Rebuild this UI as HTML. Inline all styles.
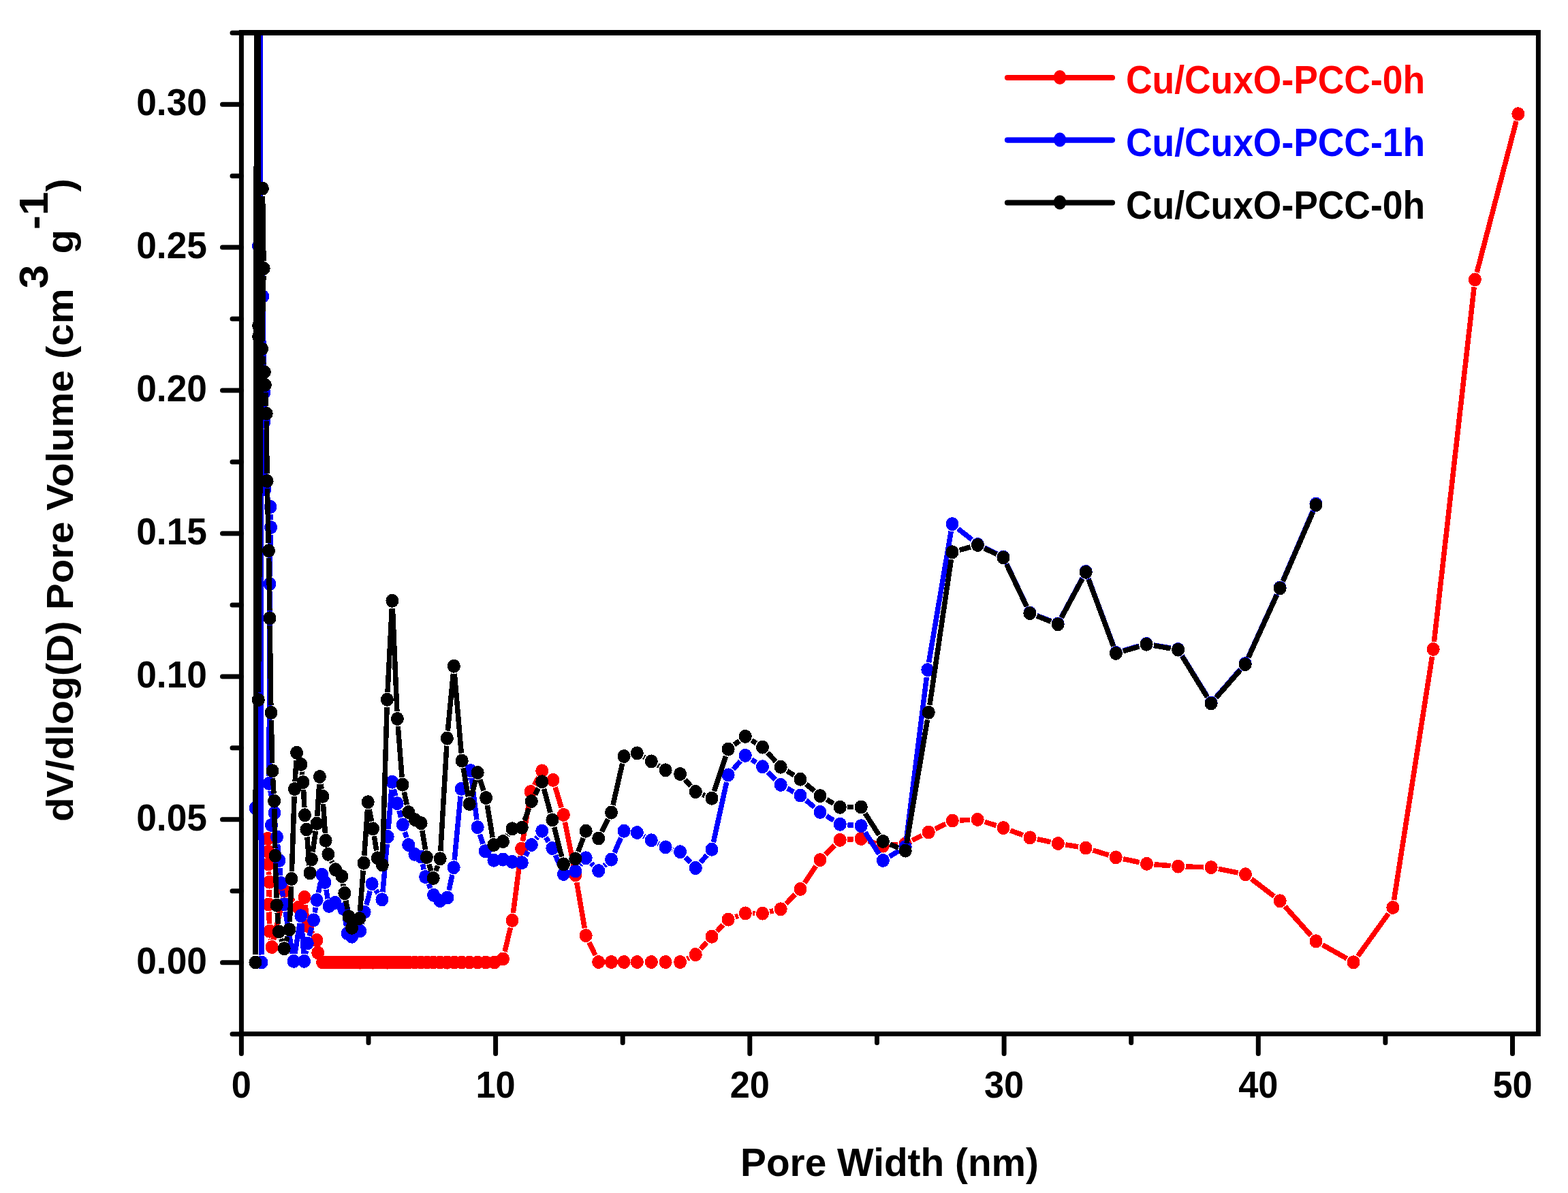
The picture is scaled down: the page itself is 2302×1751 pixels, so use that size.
<!DOCTYPE html><html><head><meta charset="utf-8"><style>html,body{margin:0;padding:0;background:#fff;}svg{display:block}</style></head><body>
<svg width="2302" height="1751" viewBox="0 0 2302 1751">
<rect width="2302" height="1751" fill="#fff"/>
<defs><clipPath id="pa"><rect x="354.44" y="47.95" width="1903.96" height="1469.51"/></clipPath></defs>
<g clip-path="url(#pa)" shape-rendering="crispEdges">
<path d="M394.6 1279.4L394.9 1283.7M395.2 1305.7L394.8 1316.5M394.9 1338.5L395.4 1355.7M397.4 1377.6L397.6 1379.1M401.6 1379.3L415.6 1318.2M425 1316L431 1323.5M448.2 1327.9L450.5 1348.1M457.6 1368.3L459.1 1370.7M741.1 1396.8L749.4 1361.6M753.4 1340L764.2 1256.6M767.4 1234.8L777.4 1172.9M784.4 1152.3L790.5 1141.1M815.2 1155.5L824.2 1185.4M829.5 1206.7L842.7 1273.4M846.7 1295L858.3 1362.3M864.9 1383L874 1402.1M1008.5 1407.2L1011.4 1405.9M1028.6 1392.9L1037.7 1382.9M1052.6 1366.8L1061.5 1357.5M1079.4 1345.8L1084 1344.2M1105.3 1340.5L1108.5 1340.6M1130.2 1338.1L1135.5 1336.9M1153.9 1326.5L1167.3 1312.8M1181.2 1295.9L1197.8 1271.2M1211.8 1254.3L1225.5 1240.7M1244.3 1232.2L1253.2 1231.7M1274.6 1234.4L1286 1238.2M1307.3 1240.5L1318.3 1239.5M1339.1 1233.5L1353.3 1226.4M1373.1 1216.7L1388.4 1209.3M1409.3 1204L1424.2 1203.4M1445.7 1206.3L1462.5 1211.7M1483.3 1218.9L1501.8 1225.6M1522.9 1231.6L1542.5 1235.8M1564.2 1239.8L1583.1 1242.8M1604.5 1247.9L1627.7 1255.1M1649 1260.7L1672.7 1265.6M1694.5 1268.8L1718.6 1270.7M1740.6 1271.9L1767.1 1272.8M1788.9 1275.3L1817.7 1281.1M1837.2 1290L1870.5 1315.6M1886.5 1330.5L1924.7 1373.2M1941.6 1386.8L1977.4 1406.9M1993.4 1403.4L2038.4 1340.9M2046.5 1321.1L2102.5 963.8M2105.4 942L2164.2 421.3M2168.2 399.8L2226 177.8" stroke="#ff0000" stroke-width="7.5" fill="none"/><g fill="#ff0000"><ellipse cx="393" cy="1231" rx="9.5" ry="10.0"/><ellipse cx="394" cy="1250" rx="9.5" ry="10.0"/><ellipse cx="394" cy="1268.4" rx="9.5" ry="10.0"/><ellipse cx="395.5" cy="1294.7" rx="9.5" ry="10.0"/><ellipse cx="394.5" cy="1327.5" rx="9.5" ry="10.0"/><ellipse cx="395.8" cy="1366.7" rx="9.5" ry="10.0"/><ellipse cx="399.2" cy="1390" rx="9.5" ry="10.0"/><ellipse cx="418" cy="1307.5" rx="9.5" ry="10.0"/><ellipse cx="438" cy="1332" rx="9.5" ry="10.0"/><ellipse cx="447" cy="1317" rx="9.5" ry="10.0"/><ellipse cx="451.7" cy="1359" rx="9.5" ry="10.0"/><ellipse cx="465" cy="1380" rx="9.5" ry="10.0"/><ellipse cx="466.7" cy="1398.3" rx="9.5" ry="10.0"/><ellipse cx="473.6" cy="1412.5" rx="9.5" ry="10.0"/><ellipse cx="477.8" cy="1412.5" rx="9.5" ry="10.0"/><ellipse cx="482.1" cy="1412.5" rx="9.5" ry="10.0"/><ellipse cx="486.6" cy="1412.5" rx="9.5" ry="10.0"/><ellipse cx="491.2" cy="1412.5" rx="9.5" ry="10.0"/><ellipse cx="496" cy="1412.5" rx="9.5" ry="10.0"/><ellipse cx="501" cy="1412.5" rx="9.5" ry="10.0"/><ellipse cx="506.1" cy="1412.5" rx="9.5" ry="10.0"/><ellipse cx="511.4" cy="1412.5" rx="9.5" ry="10.0"/><ellipse cx="516.9" cy="1412.5" rx="9.5" ry="10.0"/><ellipse cx="522.6" cy="1412.5" rx="9.5" ry="10.0"/><ellipse cx="528.5" cy="1412.5" rx="9.5" ry="10.0"/><ellipse cx="534.6" cy="1412.5" rx="9.5" ry="10.0"/><ellipse cx="540.9" cy="1412.5" rx="9.5" ry="10.0"/><ellipse cx="547.5" cy="1412.5" rx="9.5" ry="10.0"/><ellipse cx="554.2" cy="1412.5" rx="9.5" ry="10.0"/><ellipse cx="561.2" cy="1412.5" rx="9.5" ry="10.0"/><ellipse cx="568.5" cy="1412.5" rx="9.5" ry="10.0"/><ellipse cx="576" cy="1412.5" rx="9.5" ry="10.0"/><ellipse cx="583.7" cy="1412.5" rx="9.5" ry="10.0"/><ellipse cx="591.8" cy="1412.5" rx="9.5" ry="10.0"/><ellipse cx="600.1" cy="1412.5" rx="9.5" ry="10.0"/><ellipse cx="608.7" cy="1412.5" rx="9.5" ry="10.0"/><ellipse cx="617.6" cy="1412.5" rx="9.5" ry="10.0"/><ellipse cx="626.8" cy="1412.5" rx="9.5" ry="10.0"/><ellipse cx="636.4" cy="1412.5" rx="9.5" ry="10.0"/><ellipse cx="646.2" cy="1412.5" rx="9.5" ry="10.0"/><ellipse cx="656.5" cy="1412.5" rx="9.5" ry="10.0"/><ellipse cx="667.1" cy="1412.5" rx="9.5" ry="10.0"/><ellipse cx="678" cy="1412.5" rx="9.5" ry="10.0"/><ellipse cx="689.4" cy="1412.5" rx="9.5" ry="10.0"/><ellipse cx="701.1" cy="1412.5" rx="9.5" ry="10.0"/><ellipse cx="713.2" cy="1412.5" rx="9.5" ry="10.0"/><ellipse cx="725.8" cy="1412.5" rx="9.5" ry="10.0"/><ellipse cx="738.5" cy="1407.5" rx="9.5" ry="10.0"/><ellipse cx="752" cy="1350.9" rx="9.5" ry="10.0"/><ellipse cx="765.6" cy="1245.7" rx="9.5" ry="10.0"/><ellipse cx="779.2" cy="1162" rx="9.5" ry="10.0"/><ellipse cx="795.7" cy="1131.4" rx="9.5" ry="10.0"/><ellipse cx="812" cy="1145" rx="9.5" ry="10.0"/><ellipse cx="827.4" cy="1195.9" rx="9.5" ry="10.0"/><ellipse cx="844.8" cy="1284.2" rx="9.5" ry="10.0"/><ellipse cx="860.2" cy="1373.1" rx="9.5" ry="10.0"/><ellipse cx="878.7" cy="1412" rx="9.5" ry="10.0"/><ellipse cx="897.5" cy="1412" rx="9.5" ry="10.0"/><ellipse cx="916.1" cy="1412" rx="9.5" ry="10.0"/><ellipse cx="935.3" cy="1412" rx="9.5" ry="10.0"/><ellipse cx="956.3" cy="1412" rx="9.5" ry="10.0"/><ellipse cx="977.1" cy="1412" rx="9.5" ry="10.0"/><ellipse cx="998.6" cy="1412" rx="9.5" ry="10.0"/><ellipse cx="1021.3" cy="1401.1" rx="9.5" ry="10.0"/><ellipse cx="1045" cy="1374.7" rx="9.5" ry="10.0"/><ellipse cx="1069.1" cy="1349.6" rx="9.5" ry="10.0"/><ellipse cx="1094.3" cy="1340.4" rx="9.5" ry="10.0"/><ellipse cx="1119.5" cy="1340.7" rx="9.5" ry="10.0"/><ellipse cx="1146.2" cy="1334.3" rx="9.5" ry="10.0"/><ellipse cx="1175" cy="1305" rx="9.5" ry="10.0"/><ellipse cx="1204" cy="1262.1" rx="9.5" ry="10.0"/><ellipse cx="1233.3" cy="1232.9" rx="9.5" ry="10.0"/><ellipse cx="1264.2" cy="1231" rx="9.5" ry="10.0"/><ellipse cx="1296.4" cy="1241.6" rx="9.5" ry="10.0"/><ellipse cx="1329.2" cy="1238.4" rx="9.5" ry="10.0"/><ellipse cx="1363.2" cy="1221.5" rx="9.5" ry="10.0"/><ellipse cx="1398.3" cy="1204.5" rx="9.5" ry="10.0"/><ellipse cx="1435.2" cy="1202.9" rx="9.5" ry="10.0"/><ellipse cx="1473" cy="1215.1" rx="9.5" ry="10.0"/><ellipse cx="1512.1" cy="1229.4" rx="9.5" ry="10.0"/><ellipse cx="1553.3" cy="1238" rx="9.5" ry="10.0"/><ellipse cx="1594" cy="1244.6" rx="9.5" ry="10.0"/><ellipse cx="1638.2" cy="1258.4" rx="9.5" ry="10.0"/><ellipse cx="1683.5" cy="1267.9" rx="9.5" ry="10.0"/><ellipse cx="1729.6" cy="1271.6" rx="9.5" ry="10.0"/><ellipse cx="1778.1" cy="1273.1" rx="9.5" ry="10.0"/><ellipse cx="1828.5" cy="1283.3" rx="9.5" ry="10.0"/><ellipse cx="1879.2" cy="1322.3" rx="9.5" ry="10.0"/><ellipse cx="1932" cy="1381.4" rx="9.5" ry="10.0"/><ellipse cx="1987" cy="1412.3" rx="9.5" ry="10.0"/><ellipse cx="2044.8" cy="1332" rx="9.5" ry="10.0"/><ellipse cx="2104.2" cy="952.9" rx="9.5" ry="10.0"/><ellipse cx="2165.4" cy="410.4" rx="9.5" ry="10.0"/><ellipse cx="2228.8" cy="167.2" rx="9.5" ry="10.0"/></g>
<path d="M375.3 1175L379.4 372M379.5 372L384 1401.5M384 1401.5L382 -60M381.5 -60L382 270M382 270L385.5 424M385.9 446L387.8 565M388 587L388 608M388.1 630L388.9 707M392.2 728.5L393.8 733.5M397.2 755L397.3 763M397.3 785L396.2 846M396 868L395 1139M397 1160.8L401 1182.2M407.6 1239.4L408.9 1252.1M410.8 1274L411.7 1285M414.1 1306.9L415.6 1316.3M419 1338.1L429.3 1399.9M432.9 1399.9L440.1 1355.1M442.7 1355.2L445.8 1399.8M448.5 1400L449.3 1395.3M454.1 1373.9L457.6 1361M462.2 1339.5L463.4 1331.9M467.4 1310.2L470.6 1294.6M478.9 1305.8L481.1 1319.2M506.2 1345L508.4 1359.1M531.1 1355.7L532.6 1349.4M537.9 1328.1L543.3 1307.8M552 1306.5L555 1311M561.9 1309.3L568.2 1239M570.1 1217L574.8 1158.7M578.2 1158.4L580.6 1168.4M585.9 1189.7L588.6 1199.8M594.4 1221L596.7 1229.4M620.5 1268.2L622.2 1276.3M629.1 1297L632.1 1303.8M659.1 1306.7L663.9 1284M667.2 1262.3L676.1 1168.7M682.3 1148L685.9 1140.9M692.3 1142L699.9 1203.2M704.5 1224.6L709 1238.7M771.5 1256.4L775.1 1249.7M786.9 1231.2L789.1 1228.5M801.4 1229.1L805.2 1235.6M815.3 1255.1L823 1272.9M851.7 1269.9L853.3 1267.9M867.9 1267.1L871 1270.3M886.9 1270.8L889.3 1268.8M902 1251.5L911.6 1229.7M945 1227.2L946.6 1228.1M966.2 1238.1L967.2 1238.6M987.6 1246.7L988.1 1246.9M1006.2 1258.2L1013.7 1266M1028.5 1265.7L1037.8 1255.1M1047.4 1236.1L1066.7 1148.1M1076.4 1129.2L1087 1117.1M1103.5 1114.9L1110.3 1119.2M1127.3 1133L1138.4 1144.1M1155.9 1157.2L1165.3 1162.3M1183.4 1174.7L1195.6 1184.8M1213.4 1197.6L1223.9 1204.1M1244.3 1210.7L1253.2 1211.3M1270.1 1221.5L1290.5 1253.6M1305.8 1257.2L1319.8 1248.7M1330.6 1232.1L1360.4 994M1363.6 972.3L1396.2 779.9M1406.6 776L1426.8 792.1M1445.3 803.9L1463.1 812.6M1477.7 827.4L1507.2 889.6M1522.2 903.5L1542.8 911.5M1558.3 905.8L1589 848.7M1598 849.3L1634.6 947.7M1649 954.9L1672.5 948.1M1693.9 946.9L1718.8 951.1M1735.4 962.4L1772.3 1022.1M1785.3 1023.2L1821 982.3M1832.8 964L1874.5 872.5M1883.4 852.4L1927.7 749.6" stroke="#0000ff" stroke-width="7.5" fill="none"/><g fill="#0000ff"><ellipse cx="375.2" cy="1186" rx="9.5" ry="10.0"/><ellipse cx="379.5" cy="361" rx="9.5" ry="10.0"/><ellipse cx="384" cy="1412.5" rx="9.5" ry="10.0"/><ellipse cx="385.7" cy="435" rx="9.5" ry="10.0"/><ellipse cx="388" cy="576" rx="9.5" ry="10.0"/><ellipse cx="388" cy="619" rx="9.5" ry="10.0"/><ellipse cx="389" cy="718" rx="9.5" ry="10.0"/><ellipse cx="397" cy="744" rx="9.5" ry="10.0"/><ellipse cx="397.5" cy="774" rx="9.5" ry="10.0"/><ellipse cx="396" cy="857" rx="9.5" ry="10.0"/><ellipse cx="395" cy="1150" rx="9.5" ry="10.0"/><ellipse cx="403" cy="1193" rx="9.5" ry="10.0"/><ellipse cx="398.5" cy="1211" rx="9.5" ry="10.0"/><ellipse cx="406.5" cy="1228.5" rx="9.5" ry="10.0"/><ellipse cx="410" cy="1263" rx="9.5" ry="10.0"/><ellipse cx="412.5" cy="1296" rx="9.5" ry="10.0"/><ellipse cx="417.2" cy="1327.2" rx="9.5" ry="10.0"/><ellipse cx="431.1" cy="1410.8" rx="9.5" ry="10.0"/><ellipse cx="441.9" cy="1344.2" rx="9.5" ry="10.0"/><ellipse cx="446.6" cy="1410.8" rx="9.5" ry="10.0"/><ellipse cx="451.2" cy="1384.5" rx="9.5" ry="10.0"/><ellipse cx="460.5" cy="1350.4" rx="9.5" ry="10.0"/><ellipse cx="465.1" cy="1321" rx="9.5" ry="10.0"/><ellipse cx="472.9" cy="1283.8" rx="9.5" ry="10.0"/><ellipse cx="477" cy="1295" rx="9.5" ry="10.0"/><ellipse cx="483" cy="1330" rx="9.5" ry="10.0"/><ellipse cx="492" cy="1325" rx="9.5" ry="10.0"/><ellipse cx="504.6" cy="1334.1" rx="9.5" ry="10.0"/><ellipse cx="510" cy="1370" rx="9.5" ry="10.0"/><ellipse cx="516.6" cy="1374.7" rx="9.5" ry="10.0"/><ellipse cx="528.6" cy="1366.4" rx="9.5" ry="10.0"/><ellipse cx="535.1" cy="1338.7" rx="9.5" ry="10.0"/><ellipse cx="546.1" cy="1297.2" rx="9.5" ry="10.0"/><ellipse cx="560.9" cy="1320.3" rx="9.5" ry="10.0"/><ellipse cx="569.2" cy="1228" rx="9.5" ry="10.0"/><ellipse cx="575.7" cy="1147.7" rx="9.5" ry="10.0"/><ellipse cx="583.1" cy="1179.1" rx="9.5" ry="10.0"/><ellipse cx="591.4" cy="1210.4" rx="9.5" ry="10.0"/><ellipse cx="599.7" cy="1240" rx="9.5" ry="10.0"/><ellipse cx="608.9" cy="1253.8" rx="9.5" ry="10.0"/><ellipse cx="618.1" cy="1257.5" rx="9.5" ry="10.0"/><ellipse cx="624.6" cy="1287" rx="9.5" ry="10.0"/><ellipse cx="636.6" cy="1313.8" rx="9.5" ry="10.0"/><ellipse cx="645.8" cy="1322.1" rx="9.5" ry="10.0"/><ellipse cx="656.9" cy="1317.5" rx="9.5" ry="10.0"/><ellipse cx="666.1" cy="1273.2" rx="9.5" ry="10.0"/><ellipse cx="677.2" cy="1157.8" rx="9.5" ry="10.0"/><ellipse cx="691" cy="1131.1" rx="9.5" ry="10.0"/><ellipse cx="701.2" cy="1214.1" rx="9.5" ry="10.0"/><ellipse cx="712.3" cy="1249.2" rx="9.5" ry="10.0"/><ellipse cx="724.9" cy="1262.7" rx="9.5" ry="10.0"/><ellipse cx="738.5" cy="1261.5" rx="9.5" ry="10.0"/><ellipse cx="752" cy="1264.9" rx="9.5" ry="10.0"/><ellipse cx="766.3" cy="1266.1" rx="9.5" ry="10.0"/><ellipse cx="780.3" cy="1240" rx="9.5" ry="10.0"/><ellipse cx="795.7" cy="1219.7" rx="9.5" ry="10.0"/><ellipse cx="810.9" cy="1245" rx="9.5" ry="10.0"/><ellipse cx="827.4" cy="1283" rx="9.5" ry="10.0"/><ellipse cx="844.8" cy="1278.5" rx="9.5" ry="10.0"/><ellipse cx="860.2" cy="1259.3" rx="9.5" ry="10.0"/><ellipse cx="878.7" cy="1278.1" rx="9.5" ry="10.0"/><ellipse cx="897.5" cy="1261.5" rx="9.5" ry="10.0"/><ellipse cx="916.1" cy="1219.7" rx="9.5" ry="10.0"/><ellipse cx="935.3" cy="1222" rx="9.5" ry="10.0"/><ellipse cx="956.3" cy="1233.3" rx="9.5" ry="10.0"/><ellipse cx="977.1" cy="1243.4" rx="9.5" ry="10.0"/><ellipse cx="998.6" cy="1250.2" rx="9.5" ry="10.0"/><ellipse cx="1021.3" cy="1274" rx="9.5" ry="10.0"/><ellipse cx="1045" cy="1246.8" rx="9.5" ry="10.0"/><ellipse cx="1069.1" cy="1137.4" rx="9.5" ry="10.0"/><ellipse cx="1094.3" cy="1108.9" rx="9.5" ry="10.0"/><ellipse cx="1119.5" cy="1125.2" rx="9.5" ry="10.0"/><ellipse cx="1146.2" cy="1151.9" rx="9.5" ry="10.0"/><ellipse cx="1175" cy="1167.6" rx="9.5" ry="10.0"/><ellipse cx="1204" cy="1191.9" rx="9.5" ry="10.0"/><ellipse cx="1233.3" cy="1209.8" rx="9.5" ry="10.0"/><ellipse cx="1264.2" cy="1212.2" rx="9.5" ry="10.0"/><ellipse cx="1296.4" cy="1262.9" rx="9.5" ry="10.0"/><ellipse cx="1329.2" cy="1243" rx="9.5" ry="10.0"/><ellipse cx="1361.8" cy="983.1" rx="9.5" ry="10.0"/><ellipse cx="1398" cy="769.1" rx="9.5" ry="10.0"/><ellipse cx="1435.4" cy="799" rx="9.5" ry="10.0"/><ellipse cx="1473" cy="817.5" rx="9.5" ry="10.0"/><ellipse cx="1511.9" cy="899.5" rx="9.5" ry="10.0"/><ellipse cx="1553.1" cy="915.5" rx="9.5" ry="10.0"/><ellipse cx="1594.2" cy="839" rx="9.5" ry="10.0"/><ellipse cx="1638.4" cy="958" rx="9.5" ry="10.0"/><ellipse cx="1683.1" cy="945" rx="9.5" ry="10.0"/><ellipse cx="1729.6" cy="953" rx="9.5" ry="10.0"/><ellipse cx="1778.1" cy="1031.5" rx="9.5" ry="10.0"/><ellipse cx="1828.2" cy="974" rx="9.5" ry="10.0"/><ellipse cx="1879.1" cy="862.5" rx="9.5" ry="10.0"/><ellipse cx="1932" cy="739.5" rx="9.5" ry="10.0"/></g>
<path d="M375 1401.5L376.6 -60M376.6 -60L379.5 -60M379.5 -60L379.7 467M379.7 505L379.3 1016.1M379.4 1016.1L385.3 287.6M385.6 287.6L387 383M386.9 405L384.8 501M385.7 522.9L387.1 535.1M389.8 576L390.7 596M391.3 618L392 695M392.4 717L394.2 797.2M394.7 819.2L395.8 896.3M396.2 918.3L397.8 1035M398.3 1057L399.7 1120.4M400.6 1142.4L402 1164.7M402.8 1186.7L403.8 1245M404.3 1267L406 1317.7M407.2 1339.7L408.5 1356.4M412.7 1377.9L413.9 1381.7M420.1 1381.6L422 1374.9M425.4 1353.3L427.5 1301M428.4 1279L432.1 1169.1M433.1 1147.1L435 1115.8M443.2 1132.8L443.7 1137.2M445.6 1159.1L446.9 1185.3M450.9 1228.5L454.1 1270.3M459.1 1250.4L463.4 1219.7M465.7 1197.8L468.7 1151M471.1 1150.9L472.1 1157.9M474.5 1179.8L477.4 1222.8M486.6 1263.8L487.8 1266.3M503.6 1297L504.1 1300.1M507.8 1321.8L510.1 1334.4M528.6 1337L533.2 1277.7M534.8 1255.7L539.5 1188.2M542.2 1188L545.6 1205.5M549.3 1227.2L552.7 1248.4M561.6 1258.5L568.1 1037.8M569 1015.8L575.3 892.8M576.4 892.8L582.9 1044M584.3 1066L590.1 1140.7M593.3 1162.5L597.4 1181.2M619.9 1219.1L624.6 1247.2M629.7 1268.6L632.9 1278.4M639.8 1278.5L642.6 1270.7M646.8 1249.3L655.8 1094.6M657.4 1072.6L665.4 988.7M667.3 988.7L677.3 1105.6M680.1 1127.4L687.3 1169.2M692 1169.4L698.4 1144.6M704.7 1144.4L710.1 1160.6M715.4 1181.9L723.1 1229.1M744.9 1226.2L745.6 1225.2M770 1204.4L776.6 1186.3M785.5 1166.3L790.5 1157M798.6 1157.9L808 1192.8M813.6 1214.1L824.7 1257.6M848.7 1250.1L856.3 1230M883.6 1220.6L892.6 1202.4M899.9 1181.8L913.7 1120.7M944.9 1110.9L946.7 1111.9M965.6 1123.2L967.8 1124.5M1005.8 1144.3L1014.1 1153.7M1031.5 1166.2L1034.8 1167.5M1048.5 1161.3L1065.6 1110M1077.9 1093L1085.5 1087.5M1103.6 1086.7L1110.2 1090.9M1127 1104.8L1138.7 1117.6M1155.5 1131.6L1165.7 1137.9M1183.4 1150.9L1195.6 1161M1213.6 1173.5L1223.7 1179.4M1244.3 1184.7L1253.2 1184.6M1270.1 1193.8L1290.5 1225.6M1306.6 1239.1L1319 1244.4M1331 1237.8L1361.5 1056.5M1364.9 1034.8L1396.4 821.2M1408.6 807.4L1424.8 802.9M1445.3 804.8L1463.1 813.5M1477.7 828.2L1507.2 890.2M1522.1 904.1L1542.9 912.3M1558.3 906.6L1589 849.5M1598 850.1L1634.6 948.6M1648.9 955.8L1672.6 948.8M1693.9 947.5L1718.8 951.8M1735.4 963L1772.3 1023.1M1785.3 1024.2L1821 983.4M1832.8 965.1L1874.5 873.3M1883.5 853.2L1927.6 751.3" stroke="#000000" stroke-width="7.5" fill="none"/><g fill="#000000"><ellipse cx="375" cy="1412.5" rx="9.5" ry="10.0"/><ellipse cx="379.7" cy="478" rx="9.5" ry="10.0"/><ellipse cx="379.7" cy="494" rx="9.5" ry="10.0"/><ellipse cx="379.3" cy="1027.1" rx="9.5" ry="10.0"/><ellipse cx="385.4" cy="276.6" rx="9.5" ry="10.0"/><ellipse cx="387.2" cy="394" rx="9.5" ry="10.0"/><ellipse cx="384.5" cy="512" rx="9.5" ry="10.0"/><ellipse cx="388.3" cy="546" rx="9.5" ry="10.0"/><ellipse cx="389.3" cy="565" rx="9.5" ry="10.0"/><ellipse cx="391.2" cy="607" rx="9.5" ry="10.0"/><ellipse cx="392.1" cy="706" rx="9.5" ry="10.0"/><ellipse cx="394.5" cy="808.2" rx="9.5" ry="10.0"/><ellipse cx="396" cy="907.3" rx="9.5" ry="10.0"/><ellipse cx="398" cy="1046" rx="9.5" ry="10.0"/><ellipse cx="400" cy="1131.4" rx="9.5" ry="10.0"/><ellipse cx="402.6" cy="1175.7" rx="9.5" ry="10.0"/><ellipse cx="404" cy="1256" rx="9.5" ry="10.0"/><ellipse cx="406.3" cy="1328.7" rx="9.5" ry="10.0"/><ellipse cx="409.4" cy="1367.4" rx="9.5" ry="10.0"/><ellipse cx="417.2" cy="1392.2" rx="9.5" ry="10.0"/><ellipse cx="424.9" cy="1364.3" rx="9.5" ry="10.0"/><ellipse cx="428" cy="1290" rx="9.5" ry="10.0"/><ellipse cx="432.5" cy="1158.1" rx="9.5" ry="10.0"/><ellipse cx="435.6" cy="1104.8" rx="9.5" ry="10.0"/><ellipse cx="441.9" cy="1121.9" rx="9.5" ry="10.0"/><ellipse cx="445" cy="1148.1" rx="9.5" ry="10.0"/><ellipse cx="447.5" cy="1196.3" rx="9.5" ry="10.0"/><ellipse cx="450" cy="1217.5" rx="9.5" ry="10.0"/><ellipse cx="455" cy="1281.3" rx="9.5" ry="10.0"/><ellipse cx="457.5" cy="1261.3" rx="9.5" ry="10.0"/><ellipse cx="465" cy="1208.8" rx="9.5" ry="10.0"/><ellipse cx="469.4" cy="1140" rx="9.5" ry="10.0"/><ellipse cx="473.8" cy="1168.8" rx="9.5" ry="10.0"/><ellipse cx="478.1" cy="1233.8" rx="9.5" ry="10.0"/><ellipse cx="481.9" cy="1253.8" rx="9.5" ry="10.0"/><ellipse cx="492.5" cy="1276.3" rx="9.5" ry="10.0"/><ellipse cx="501.8" cy="1286.1" rx="9.5" ry="10.0"/><ellipse cx="505.9" cy="1311" rx="9.5" ry="10.0"/><ellipse cx="512" cy="1345.2" rx="9.5" ry="10.0"/><ellipse cx="516.6" cy="1361.8" rx="9.5" ry="10.0"/><ellipse cx="527.7" cy="1348" rx="9.5" ry="10.0"/><ellipse cx="534.1" cy="1266.7" rx="9.5" ry="10.0"/><ellipse cx="540.2" cy="1177.2" rx="9.5" ry="10.0"/><ellipse cx="547.6" cy="1216.3" rx="9.5" ry="10.0"/><ellipse cx="554.4" cy="1259.3" rx="9.5" ry="10.0"/><ellipse cx="561.3" cy="1269.5" rx="9.5" ry="10.0"/><ellipse cx="568.4" cy="1026.8" rx="9.5" ry="10.0"/><ellipse cx="575.9" cy="881.8" rx="9.5" ry="10.0"/><ellipse cx="583.4" cy="1055" rx="9.5" ry="10.0"/><ellipse cx="591" cy="1151.7" rx="9.5" ry="10.0"/><ellipse cx="599.7" cy="1192" rx="9.5" ry="10.0"/><ellipse cx="609.4" cy="1203.1" rx="9.5" ry="10.0"/><ellipse cx="618.1" cy="1208.2" rx="9.5" ry="10.0"/><ellipse cx="626.4" cy="1258.1" rx="9.5" ry="10.0"/><ellipse cx="636.2" cy="1288.9" rx="9.5" ry="10.0"/><ellipse cx="646.2" cy="1260.3" rx="9.5" ry="10.0"/><ellipse cx="656.4" cy="1083.6" rx="9.5" ry="10.0"/><ellipse cx="666.4" cy="977.7" rx="9.5" ry="10.0"/><ellipse cx="678.2" cy="1116.6" rx="9.5" ry="10.0"/><ellipse cx="689.2" cy="1180" rx="9.5" ry="10.0"/><ellipse cx="701.2" cy="1134" rx="9.5" ry="10.0"/><ellipse cx="713.6" cy="1171" rx="9.5" ry="10.0"/><ellipse cx="724.9" cy="1240" rx="9.5" ry="10.0"/><ellipse cx="738.5" cy="1235.1" rx="9.5" ry="10.0"/><ellipse cx="752" cy="1216.3" rx="9.5" ry="10.0"/><ellipse cx="766.3" cy="1214.7" rx="9.5" ry="10.0"/><ellipse cx="780.3" cy="1176" rx="9.5" ry="10.0"/><ellipse cx="795.7" cy="1147.3" rx="9.5" ry="10.0"/><ellipse cx="810.9" cy="1203.4" rx="9.5" ry="10.0"/><ellipse cx="827.4" cy="1268.3" rx="9.5" ry="10.0"/><ellipse cx="844.8" cy="1260.4" rx="9.5" ry="10.0"/><ellipse cx="860.2" cy="1219.7" rx="9.5" ry="10.0"/><ellipse cx="878.7" cy="1230.5" rx="9.5" ry="10.0"/><ellipse cx="897.5" cy="1192.5" rx="9.5" ry="10.0"/><ellipse cx="916.1" cy="1110" rx="9.5" ry="10.0"/><ellipse cx="935.3" cy="1105.4" rx="9.5" ry="10.0"/><ellipse cx="956.3" cy="1117.4" rx="9.5" ry="10.0"/><ellipse cx="977.1" cy="1130.3" rx="9.5" ry="10.0"/><ellipse cx="998.6" cy="1136" rx="9.5" ry="10.0"/><ellipse cx="1021.3" cy="1162" rx="9.5" ry="10.0"/><ellipse cx="1045" cy="1171.7" rx="9.5" ry="10.0"/><ellipse cx="1069.1" cy="1099.6" rx="9.5" ry="10.0"/><ellipse cx="1094.3" cy="1080.9" rx="9.5" ry="10.0"/><ellipse cx="1119.5" cy="1096.7" rx="9.5" ry="10.0"/><ellipse cx="1146.2" cy="1125.7" rx="9.5" ry="10.0"/><ellipse cx="1175" cy="1143.8" rx="9.5" ry="10.0"/><ellipse cx="1204" cy="1168.1" rx="9.5" ry="10.0"/><ellipse cx="1233.3" cy="1184.8" rx="9.5" ry="10.0"/><ellipse cx="1264.2" cy="1184.5" rx="9.5" ry="10.0"/><ellipse cx="1296.4" cy="1234.9" rx="9.5" ry="10.0"/><ellipse cx="1329.2" cy="1248.6" rx="9.5" ry="10.0"/><ellipse cx="1363.3" cy="1045.7" rx="9.5" ry="10.0"/><ellipse cx="1398" cy="810.3" rx="9.5" ry="10.0"/><ellipse cx="1435.4" cy="800" rx="9.5" ry="10.0"/><ellipse cx="1473" cy="818.3" rx="9.5" ry="10.0"/><ellipse cx="1511.9" cy="900.1" rx="9.5" ry="10.0"/><ellipse cx="1553.1" cy="916.3" rx="9.5" ry="10.0"/><ellipse cx="1594.2" cy="839.8" rx="9.5" ry="10.0"/><ellipse cx="1638.4" cy="958.9" rx="9.5" ry="10.0"/><ellipse cx="1683.1" cy="945.7" rx="9.5" ry="10.0"/><ellipse cx="1729.6" cy="953.6" rx="9.5" ry="10.0"/><ellipse cx="1778.1" cy="1032.5" rx="9.5" ry="10.0"/><ellipse cx="1828.2" cy="975.1" rx="9.5" ry="10.0"/><ellipse cx="1879.1" cy="863.3" rx="9.5" ry="10.0"/><ellipse cx="1932" cy="741.2" rx="9.5" ry="10.0"/></g>
</g>
<path d="M354.4 44.1L354.4 1517.5L2258.4 1517.5" fill="none" stroke="#000" stroke-width="7.0" stroke-linejoin="round"/>
<path d="M354.4 48L2258.4 48" fill="none" stroke="#000" stroke-width="7.9" stroke-linejoin="round"/>
<path d="M2258.4 44.1L2258.4 1521" fill="none" stroke="#000" stroke-width="7.0" stroke-linejoin="round"/>
<path d="M354.4 1517.5L354.4 1546.5M727.6 1517.5L727.6 1546.5M1100.8 1517.5L1100.8 1546.5M1474.1 1517.5L1474.1 1546.5M1847.3 1517.5L1847.3 1546.5M2220.5 1517.5L2220.5 1546.5M541 1517.5L541 1530.5M914.2 1517.5L914.2 1530.5M1287.5 1517.5L1287.5 1530.5M1660.7 1517.5L1660.7 1530.5M2033.9 1517.5L2033.9 1530.5M354.4 1412.7L326.5 1412.7M354.4 1202.8L326.5 1202.8M354.4 992.9L326.5 992.9M354.4 783L326.5 783M354.4 573L326.5 573M354.4 363.1L326.5 363.1M354.4 153.2L326.5 153.2M354.4 1517.7L341 1517.7M354.4 1307.7L341 1307.7M354.4 1097.8L341 1097.8M354.4 887.9L341 887.9M354.4 678L341 678M354.4 468.1L341 468.1M354.4 258.2L341 258.2M354.4 48.3L341 48.3" stroke="#000" stroke-width="7.0" stroke-linecap="round" fill="none"/>
<g font-family="Liberation Sans, Arial, sans-serif" font-weight="bold" font-size="56" fill="#000">
<text transform="translate(354.4 1610.5) scale(0.935 1)" text-anchor="middle">0</text>
<text transform="translate(727.6 1610.5) scale(0.935 1)" text-anchor="middle">10</text>
<text transform="translate(1100.8 1610.5) scale(0.935 1)" text-anchor="middle">20</text>
<text transform="translate(1474.1 1610.5) scale(0.935 1)" text-anchor="middle">30</text>
<text transform="translate(1847.3 1610.5) scale(0.935 1)" text-anchor="middle">40</text>
<text transform="translate(2220.5 1610.5) scale(0.935 1)" text-anchor="middle">50</text>
<text transform="translate(304 1428.7) scale(0.953 1)" text-anchor="end">0.00</text>
<text transform="translate(304 1218.8) scale(0.953 1)" text-anchor="end">0.05</text>
<text transform="translate(304 1008.9) scale(0.953 1)" text-anchor="end">0.10</text>
<text transform="translate(304 799) scale(0.953 1)" text-anchor="end">0.15</text>
<text transform="translate(304 589) scale(0.953 1)" text-anchor="end">0.20</text>
<text transform="translate(304 379.1) scale(0.953 1)" text-anchor="end">0.25</text>
<text transform="translate(304 169.2) scale(0.953 1)" text-anchor="end">0.30</text>
</g>
<g font-family="Liberation Sans, Arial, sans-serif" font-weight="bold" fill="#000">
<text x="1087" y="1725.5" font-size="58" textLength="438" lengthAdjust="spacingAndGlyphs">Pore Width (nm)</text>
<text transform="translate(107 1206) rotate(-90)" font-size="56" textLength="944" lengthAdjust="spacingAndGlyphs">dV/dlog(D) Pore Volume (cm<tspan dy="-37" font-size="60">3</tspan><tspan dy="37"> g</tspan><tspan dy="-37" font-size="60">-1</tspan><tspan dy="37">)</tspan></text>
</g>
<path d="M1479 114L1633 114" stroke="#ff0000" stroke-width="8.2" stroke-linecap="round"/>
<ellipse cx="1556" cy="113.5" rx="9.2" ry="10.5" fill="#ff0000"/>
<text x="1653" y="137.3" fill="#ff0000" font-family="Liberation Sans, Arial, sans-serif" font-weight="bold" font-size="58" textLength="439" lengthAdjust="spacingAndGlyphs">Cu/CuxO-PCC-0h</text>
<path d="M1479 205.6L1633 205.6" stroke="#0000ff" stroke-width="8.2" stroke-linecap="round"/>
<ellipse cx="1556" cy="205.1" rx="9.2" ry="10.5" fill="#0000ff"/>
<text x="1653" y="229.2" fill="#0000ff" font-family="Liberation Sans, Arial, sans-serif" font-weight="bold" font-size="58" textLength="439" lengthAdjust="spacingAndGlyphs">Cu/CuxO-PCC-1h</text>
<path d="M1479 297.5L1633 297.5" stroke="#000000" stroke-width="8.2" stroke-linecap="round"/>
<ellipse cx="1556" cy="297" rx="9.2" ry="10.5" fill="#000000"/>
<text x="1653" y="321.4" fill="#000000" font-family="Liberation Sans, Arial, sans-serif" font-weight="bold" font-size="58" textLength="439" lengthAdjust="spacingAndGlyphs">Cu/CuxO-PCC-0h</text>
</svg></body></html>
